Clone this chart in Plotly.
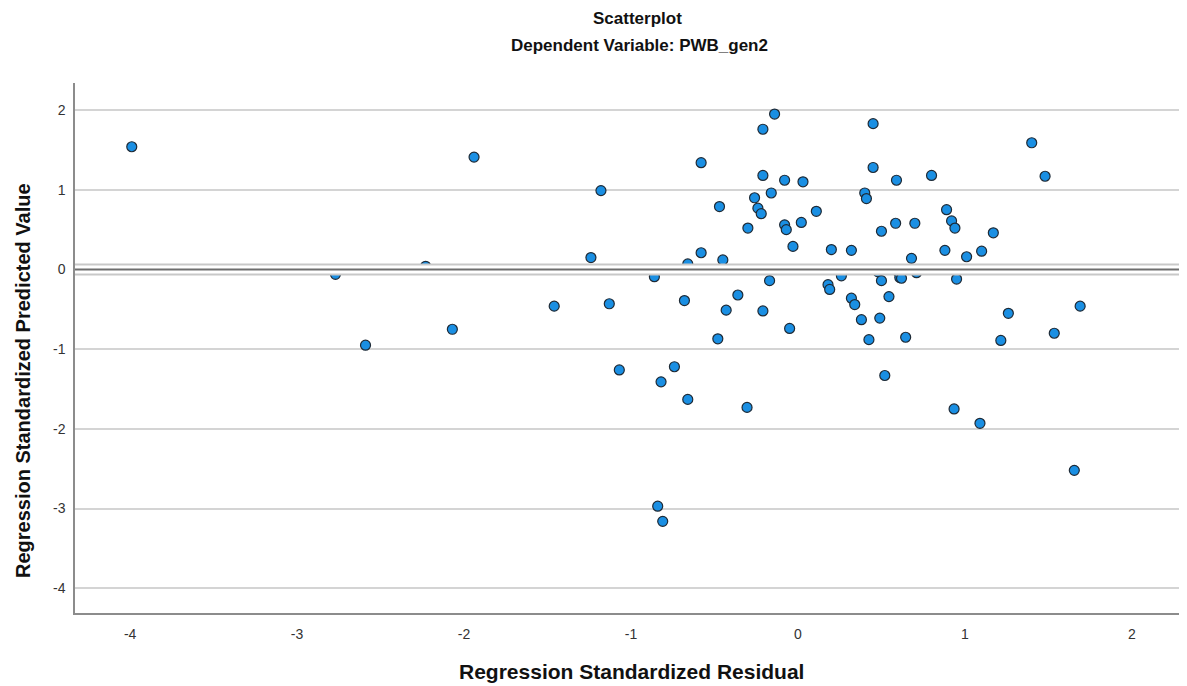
import plotly.graph_objects as go

residual = [-3.99, -2.77, -2.59, -2.23, -2.07, -1.94, -1.46, -1.24, -1.18, -1.13,
            -1.07, -0.86, -0.84, -0.82, -0.81, -0.74, -0.68, -0.66, -0.66, -0.58,
            -0.58, -0.47, -0.48, -0.45, -0.43, -0.36, -0.30, -0.305, -0.26, -0.24,
            -0.22, -0.21, -0.21, -0.21, -0.16, -0.17, -0.14, -0.08, -0.08, -0.07,
            -0.05, -0.03, 0.02, 0.03, 0.11, 0.45, 0.45, 0.59, 0.80, 1.40,
            1.48, 0.40, 0.41, 0.50, 0.585, 0.70, 0.89, 0.92, 0.94, 1.17,
            0.20, 0.32, 0.88, 1.01, 1.10, 0.68, 0.26, 0.26, 0.48, 0.50,
            0.60, 0.61, 0.62, 0.71, 0.18, 0.19, 0.95, 0.32, 0.34, 0.545,
            0.38, 0.49, 0.425, 0.645, 1.26, 1.69, 1.215, 1.535, 0.52, 0.935,
            1.09, 1.655]
predicted = [1.54, -0.06, -0.95, 0.04, -0.75, 1.41, -0.46, 0.15, 0.99, -0.43,
             -1.26, -0.09, -2.97, -1.41, -3.16, -1.22, -0.39, 0.07, -1.63, 1.34,
             0.21, 0.79, -0.87, 0.12, -0.51, -0.32, 0.52, -1.73, 0.90, 0.77,
             0.70, 1.76, 1.18, -0.52, 0.96, -0.14, 1.95, 1.12, 0.56, 0.50,
             -0.74, 0.29, 0.59, 1.10, 0.73, 1.83, 1.28, 1.12, 1.18, 1.59,
             1.17, 0.96, 0.89, 0.48, 0.58, 0.58, 0.75, 0.61, 0.52, 0.46,
             0.25, 0.24, 0.24, 0.16, 0.23, 0.14, -0.05, -0.08, -0.03, -0.14,
             -0.03, -0.10, -0.11, -0.04, -0.19, -0.25, -0.12, -0.36, -0.44, -0.34,
             -0.63, -0.61, -0.88, -0.85, -0.55, -0.46, -0.89, -0.80, -1.33, -1.75,
             -1.93, -2.52]

x_ticks = [-4, -3, -2, -1, 0, 1, 2]
y_ticks = [-4, -3, -2, -1, 0, 1, 2]

FONT = "Liberation Sans, Arial, sans-serif"

fig = go.Figure()
fig.add_trace(go.Scatter(
    x=residual, y=predicted, mode="markers",
    marker=dict(size=10, color="#1a8fe3", line=dict(color="#1e2a36", width=1.2)),
    showlegend=False, hoverinfo="x+y"))

# reference line at y = 0 (capsule style)
for w, c in [(12, "#c8c8c8"), (8, "#ffffff"), (2.2, "#6e6e6e")]:
    fig.add_shape(type="line", xref="paper", yref="y", x0=0, x1=1, y0=0, y1=0,
                  line=dict(color=c, width=w), layer="above")

fig.update_layout(
    width=1179, height=678,
    margin=dict(l=67, r=0, t=75, b=73),
    paper_bgcolor="white", plot_bgcolor="white",
    font=dict(family=FONT, color="#333333", size=14),
    annotations=[
        dict(text="<b>Scatterplot</b>", xref="paper", yref="paper", x=0.5, y=1,
             xshift=6, yshift=65, xanchor="center", yanchor="middle", showarrow=False,
             font=dict(size=17, color="#111111", family=FONT)),
        dict(text="<b>Dependent Variable: PWB_gen2</b>", xref="paper", yref="paper",
             x=0.5, y=1, xshift=8, yshift=38, xanchor="center", yanchor="middle",
             showarrow=False, font=dict(size=17, color="#111111", family=FONT)),
        dict(text="<b>Regression Standardized Residual</b>", xref="paper", yref="paper",
             x=0.5, y=0, yshift=-58, xanchor="center", yanchor="middle", showarrow=False,
             font=dict(size=21, color="#111111", family=FONT)),
        dict(text="<b>Regression Standardized Predicted Value</b>", xref="paper", yref="paper",
             x=0, y=0.5, xshift=-52, yshift=-33, textangle=-90, xanchor="center",
             yanchor="middle", showarrow=False,
             font=dict(size=20, color="#111111", family=FONT)),
    ],
)
fig.update_xaxes(range=[-4.33, 2.33], tickvals=x_ticks, ticktext=[str(v) for v in x_ticks],
                 showgrid=False, zeroline=False, showline=True, linecolor="#8c8c8c",
                 linewidth=1.5, ticks="outside", ticklen=7, tickcolor="rgba(0,0,0,0)",
                 tickfont=dict(size=14, color="#333333"))
fig.update_yaxes(range=[-4.31, 2.34], tickvals=y_ticks, ticktext=[str(v) for v in y_ticks],
                 showgrid=True, gridcolor="#d4d4d4", gridwidth=1.5, zeroline=False,
                 showline=True, linecolor="#8c8c8c", linewidth=1.5,
                 ticks="outside", ticklen=5, tickcolor="rgba(0,0,0,0)",
                 tickfont=dict(size=14, color="#333333"))

fig.write_html("out.html")
